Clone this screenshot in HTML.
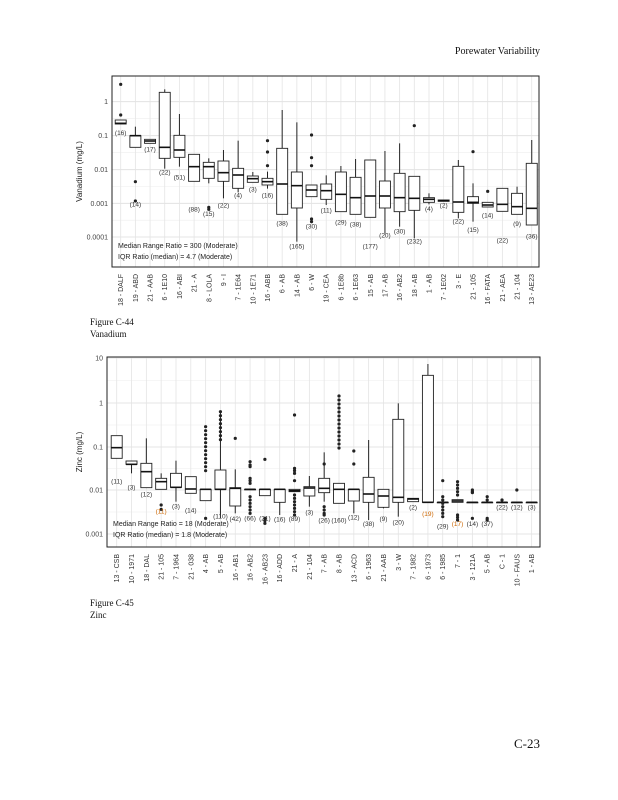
<!DOCTYPE html>
<html><head><meta charset="utf-8"><style>
body{margin:0;background:#fff;width:618px;height:800px;overflow:hidden}
svg{display:block}
</style></head><body>
<svg id="s" width="618" height="800" xmlns="http://www.w3.org/2000/svg" font-family="Liberation Sans, sans-serif">
<text x="540" y="54" text-anchor="end" font-family="Liberation Serif, serif" font-size="10" fill="#111">Porewater Variability</text>
<text x="540" y="748" text-anchor="end" font-family="Liberation Serif, serif" font-size="13" fill="#111">C-23</text>
<text x="90" y="325" font-family="Liberation Serif, serif" font-size="9" fill="#111">Figure C-44</text>
<text x="90" y="337" font-family="Liberation Serif, serif" font-size="9" fill="#111">Vanadium</text>
<text x="90" y="606" font-family="Liberation Serif, serif" font-size="9" fill="#111">Figure C-45</text>
<text x="90" y="618" font-family="Liberation Serif, serif" font-size="9" fill="#111">Zinc</text>
<g id="g"></g>
</svg>
<script>
const g=document.getElementById('g');let h='';
function panel(P){
 const {L,R,T,B,x0,dx,base,ticks,tickX,data,labels,ylab,ylabX,ann,annY,labTop}=P;
 // grid
 for(let i=0;i<ticks.length;i++){const y=ticks[i][1];
  h+=`<line x1="${L}" x2="${R}" y1="${y}" y2="${y}" stroke="#ddd" stroke-width="0.8"/>`;
  if(i<ticks.length-1){const ym=(y+ticks[i+1][1])/2;h+=`<line x1="${L}" x2="${R}" y1="${ym}" y2="${ym}" stroke="#eee" stroke-width="0.6"/>`;}
  h+=`<text x="${tickX}" y="${y+2.5}" text-anchor="end" font-size="7" fill="#444">${ticks[i][0]}</text>`;
 }
 data.forEach((d,i)=>{const x=x0+dx*i;h+=`<line x1="${x}" x2="${x}" y1="${T}" y2="${B}" stroke="#e4e4e4" stroke-width="0.8"/>`;});
 h+=`<rect x="${L}" y="${T}" width="${R-L}" height="${B-T}" fill="none" stroke="#222" stroke-width="1"/>`;
 const Y=z=>base+z/3;
 data.forEach((d,i)=>{const x=x0+dx*i;const [q1,m,q3,wh,wl,out,n,ny,col]=d;const w=5.5;
  if(wh!=null)h+=`<line x1="${x}" x2="${x}" y1="${Y(wh)}" y2="${Y(q1)}" stroke="#222"/>`;
  if(wl!=null)h+=`<line x1="${x}" x2="${x}" y1="${Y(q3)}" y2="${Y(wl)}" stroke="#222"/>`;
  h+=`<rect x="${x-w}" y="${Y(q1)}" width="${2*w}" height="${Math.max(0.5,Y(q3)-Y(q1))}" fill="#fff" stroke="#222" stroke-width="0.9"/>`;
  h+=`<line x1="${x-w}" x2="${x+w}" y1="${Y(m)}" y2="${Y(m)}" stroke="#111" stroke-width="1.6"/>`;
  (out||[]).forEach(o=>{h+=`<circle cx="${x}" cy="${Y(o)}" r="1.6" fill="#222"/>`;});
  if(n)h+=`<text x="${x}" y="${Y(ny)}" text-anchor="middle" font-size="6.5" fill="${col||'#333'}">(${n})</text>`;
  h+=`<text transform="translate(${x+2.5},${labTop}) rotate(-90)" text-anchor="end" font-size="7" fill="#333">${labels[i]}</text>`;
 });
 h+=`<text transform="translate(${ylabX},${(T+B)/2}) rotate(-90)" text-anchor="middle" font-size="8" fill="#222">${ylab}</text>`;
 h+=`<text x="${L+6}" y="${annY}" font-size="7" fill="#222">${ann[0]}</text><text x="${L+6}" y="${annY+11}" font-size="7" fill="#222">${ann[1]}</text>`;
}
function rng(a,b){const r=[];for(let v=a;v<=b;v+=12)r.push(v);return r;}
panel({L:112,R:539,T:76,B:267,x0:120.7,dx:14.68,base:70,tickX:108,labTop:274,ylabX:82,annY:248,
ticks:[["1",101.7],["0.1",135.7],["0.01",169.7],["0.001",203.3],["0.0001",237]],
ylab:"Vanadium (mg/L)",ann:["Median Range Ratio = 300 (Moderate)","IQR Ratio (median) = 4.7 (Moderate)"],
labels:["18 - DALF","19 - ABD","21 - AAB","6 - 1E10","16 - ABI","21 - A","8 - LOLA","9 - I","7 - 1E64","10 - 1E71","16 - ABB","6 - AB","14 - AB","6 - W","19 - CEA","6 - 1E8b","6 - 1E63","15 - AB","17 - AB","16 - AB2","18 - AB","1 - AB","7 - 1E02","3 - E","21 - 105","16 - FATA","21 - AEA","21 - 104","13 - AE23"],
data:[[150,160,162,null,null,[43,135],16,195],[197,197,232,170,null,[335,393],14,410],[208,213,220,null,null,[],17,245],
[67,232,265,58,296,[],22,313],[196,240,262,132,290,[],51,328],[253,290,334,null,null,[],88,425],[277,290,325,265,340,[412,418],15,438],
[273,308,334,240,385,[],22,413],[295,315,355,212,367,[],4,383],[318,326,337,306,null,[],3,365],[325,335,345,305,356,[212,246,287],16,383],
[235,342,433,120,null,[],38,466],[306,347,414,157,515,[],165,535],[345,360,380,null,null,[195,263,287,447,455],30,476],
[342,362,388,316,405,[],11,428],[306,373,425,288,null,[],29,463],[322,383,433,267,null,[],38,469],[270,378,442,null,null,[],177,535],
[333,378,414,243,490,[],20,503],[310,383,425,220,470,[],30,491],[319,385,421,null,505,[167],232,521],[383,388,397,370,403,[],4,423],
[390,392,394,null,null,[],2,413],[289,396,427,270,445,[],22,460],[380,397,400,340,455,[245],15,486],[397,405,411,null,null,[364],14,443],
[355,403,424,null,null,[],22,517],[370,410,433,350,null,[],9,468],[280,415,465,210,null,[],36,506]]});
const z7=rng(230,370).concat([505]),z8=rng(185,270),z16=rng(138,305);
panel({L:107,R:540,T:357,B:547,x0:116.7,dx:14.82,base:350,tickX:103,labTop:554,ylabX:82,annY:526,
ticks:[["10",358],["1",403],["0.1",447],["0.01",490],["0.001",534]],
ylab:"Zinc (mg/L)",ann:["Median Range Ratio = 18 (Moderate)","IQR Ratio (median) = 1.8 (Moderate)"],
labels:["13 - CSB","10 - 1971","18 - DAL","21 - 105","7 - 1964","21 - 038","4 - AB","5 - AB","16 - AB1","16 - AB2","16 - AB23","16 - ADD","21 - A","21 - 104","7 - AB","8 - AB","13 - ACD","6 - 1963","21 - AAB","3 - W","7 - 1982","6 - 1973","6 - 1985","7 - 1","3 - 121A","5 - AB","C - 1","10 - FAUS","1 - AB"],
data:[[257,293,325,null,null,[],11,400],[333,343,343,null,370,[],3,418],[340,365,413,265,null,[],12,440],[385,395,418,370,null,[465,478],11,491,"#c60"],
[370,412,412,332,455,[],3,476],[380,417,430,null,null,[],14,488],[418,418,452,null,null,z7,null,0],[360,418,418,185,505,z8,110,505],
[413,415,468,358,490,[265],42,513],[418,418,418,null,null,[335,345,350,385,392,400,440,450,460,470,480,490],66,511],
[418,418,437,null,null,[328,505,512,520],21,511],[418,418,457,null,495,[],16,515],[418,422,425,null,null,[195,355,362,370,392,435,445,455,465,475,485,495],89,513],
[410,414,438,378,470,[],3,493],[385,415,428,307,455,[342,470,480,490,495],26,518],[400,418,460,null,null,z16,160,518],
[418,418,453,null,490,[303,342],12,508],[382,432,457,270,510,[],38,528],[418,438,472,null,475,[],9,513],[208,442,457,160,500,[],20,523],
[445,447,455,null,null,[],2,478],[76,457,457,42,null,[],19,498,"#c60"],[457,457,457,null,null,[392,440,450,460,470,480,490,500],29,535],
[449,453,457,null,null,[395,405,415,425,435,495,502,510],17,528,"#c60"],[457,457,457,null,null,[420,425,428,505],14,528],[457,457,457,null,null,[440,450,505,510],37,528],
[457,457,457,null,null,[450],22,478],[457,457,457,null,null,[420],12,478],[457,457,457,null,null,[],3,478]]});
g.innerHTML=h;
</script>
</body></html>
